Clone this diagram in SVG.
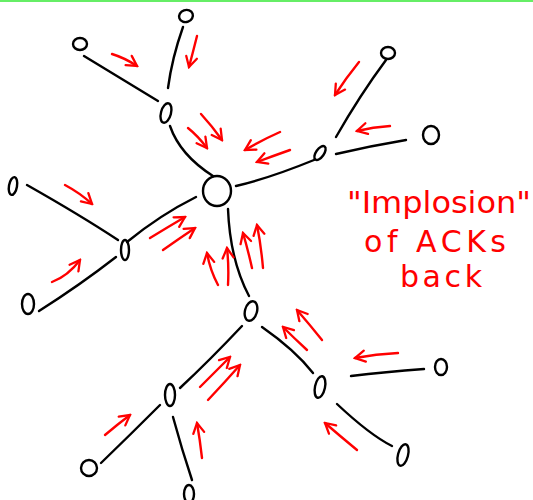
<svg xmlns="http://www.w3.org/2000/svg" width="533" height="500" viewBox="0 0 533 500">
<style>
.e{fill:none;stroke:#000;stroke-width:2.4;stroke-linecap:round}
.n{fill:none;stroke:#000;stroke-width:2.4}
.a{fill:none;stroke:#f00;stroke-width:2.4;stroke-linecap:round;marker-end:url(#h)}
.t{fill:#f00;font-family:"DejaVu Sans",sans-serif;font-size:30px}
</style>
<defs>
<marker id="h" viewBox="0 0 14 14" refX="12" refY="7" markerWidth="14" markerHeight="14" markerUnits="userSpaceOnUse" orient="auto">
<path d="M2,1.5 L12,7 L2,12.5" fill="none" stroke="#f00" stroke-width="2.3" stroke-linecap="round"/>
</marker>
</defs>
<rect width="533" height="500" fill="#fff"/>
<rect width="533" height="2" fill="#66ee66"/>
<g id="connectors">
<path class="e" d="M84,56 Q120,78 158,101"/>
<path class="e" d="M183,27 Q172,58 168,88"/>
<path class="e" d="M170,126 Q180,155 213,176"/>
<path class="e" d="M236,186 Q270,178 314,160"/>
<path class="e" d="M386,60 Q360,95 336,137"/>
<path class="e" d="M406,140 Q370,146 336,154"/>
<path class="e" d="M196,197 Q160,215 127,242"/>
<path class="e" d="M27,185 Q80,215 118,240"/>
<path class="e" d="M39,311 Q80,285 116,257"/>
<path class="e" d="M228,209 Q230,260 249,296"/>
<path class="e" d="M262,327 Q295,350 313,373"/>
<path class="e" d="M424,369 Q385,372 351,376"/>
<path class="e" d="M337,404 Q370,435 392,446"/>
<path class="e" d="M242,326 Q210,360 180,388"/>
<path class="e" d="M101,463 Q130,435 160,405"/>
<path class="e" d="M173,417 Q182,450 192,480"/>
</g>
<g id="acks">
<path class="a" d="M112,54 Q125,58 137,66"/>
<path class="a" d="M197,36 Q193,52 189,67"/>
<path class="a" d="M188,128 Q198,136 207,148"/>
<path class="a" d="M201,114 Q212,126 222,140"/>
<path class="a" d="M280,132 Q262,140 245,150"/>
<path class="a" d="M290,150 Q273,156 257,162"/>
<path class="a" d="M359,62 Q346,78 335,95"/>
<path class="a" d="M390,126 Q373,127 357,131"/>
<path class="a" d="M65,185 Q80,193 92,204"/>
<path class="a" d="M150,238 Q168,227 185,217"/>
<path class="a" d="M163,250 Q180,238 195,228"/>
<path class="a" d="M218,285 Q210,270 207,253"/>
<path class="a" d="M228,285 Q229,266 227,248"/>
<path class="a" d="M252,268 Q248,250 243,233"/>
<path class="a" d="M263,268 Q261,245 257,225"/>
<path class="a" d="M52,282 Q68,276 80,260"/>
<path class="a" d="M307,350 Q294,338 283,327"/>
<path class="a" d="M322,340 Q310,325 297,310"/>
<path class="a" d="M200,387 Q215,372 230,357"/>
<path class="a" d="M208,400 Q225,382 240,365"/>
<path class="a" d="M202,458 Q200,440 197,423"/>
<path class="a" d="M105,435 Q118,424 130,415"/>
<path class="a" d="M398,353 Q376,354 355,358"/>
<path class="a" d="M357,450 Q340,436 325,423"/>
</g>
<g id="n1"><ellipse class="n" cx="80" cy="44" rx="7" ry="6"/></g>
<g id="n2"><ellipse class="n" cx="186" cy="16" rx="7" ry="6" transform="rotate(-20 186 16)"/></g>
<g id="n3"><ellipse class="n" cx="166" cy="113" rx="5" ry="10" transform="rotate(15 166 113)"/></g>
<g id="hub"><ellipse class="n" cx="217" cy="191" rx="14" ry="15"/></g>
<g id="n4"><ellipse class="n" cx="320" cy="153" rx="4" ry="8" transform="rotate(35 320 153)"/></g>
<g id="n5"><ellipse class="n" cx="388" cy="53" rx="7" ry="6"/></g>
<g id="n6"><ellipse class="n" cx="431" cy="135" rx="8" ry="9"/></g>
<g id="n7"><ellipse class="n" cx="13" cy="186" rx="4" ry="9" transform="rotate(10 13 186)"/></g>
<g id="n8"><ellipse class="n" cx="125" cy="250" rx="4" ry="10"/></g>
<g id="n9"><ellipse class="n" cx="28" cy="304" rx="6" ry="10"/></g>
<g id="n10"><ellipse class="n" cx="251" cy="311" rx="6" ry="10" transform="rotate(15 251 311)"/></g>
<g id="n11"><ellipse class="n" cx="320" cy="387" rx="5" ry="11" transform="rotate(12 320 387)"/></g>
<g id="n12"><ellipse class="n" cx="441" cy="367" rx="6" ry="8"/></g>
<g id="n13"><ellipse class="n" cx="403" cy="455" rx="5" ry="11" transform="rotate(15 403 455)"/></g>
<g id="n14"><ellipse class="n" cx="170" cy="395" rx="5" ry="11"/></g>
<g id="n15"><ellipse class="n" cx="89" cy="468" rx="8" ry="8"/></g>
<g id="n16"><ellipse class="n" cx="189" cy="494" rx="5" ry="9"/></g>
<g id="label">
<text class="t" x="347" y="213" textLength="184" lengthAdjust="spacingAndGlyphs">"Implosion"</text>
<text class="t" x="364" y="252" textLength="142" lengthAdjust="spacing">of ACKs</text>
<text class="t" x="400" y="287" textLength="82" lengthAdjust="spacing">back</text>
</g>
</svg>
